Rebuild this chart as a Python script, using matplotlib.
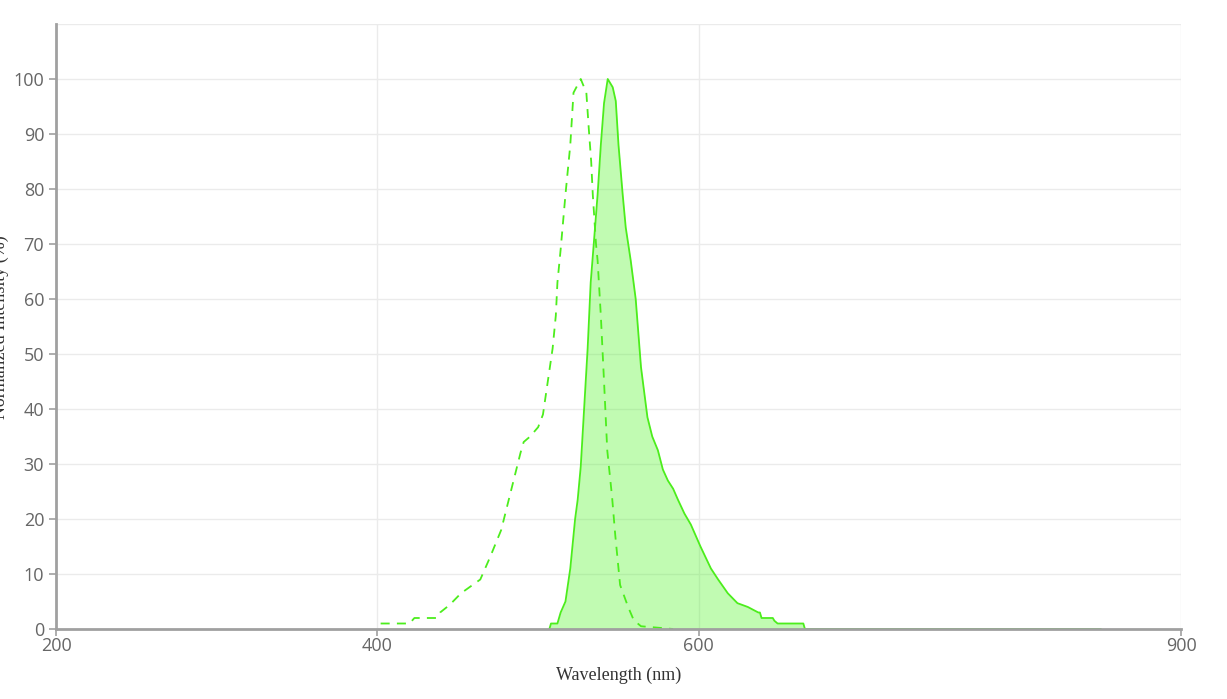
import numpy as np
import matplotlib.pyplot as plt

# excitation spectrum (dashed line)
ex_nm = [402, 420, 423, 437, 439, 445, 452, 464, 470, 477, 483, 489, 491, 495,
         500, 503, 506, 509, 511, 512, 514, 517, 520, 522, 526.5, 530, 531.5,
         533, 534, 536, 537, 539, 541, 543, 546, 548, 551, 556, 559.5, 564, 584]
ex_val = [1, 1, 2, 2, 3, 4.4, 6.5, 9, 13, 18, 25, 32, 34, 35,
          36.7, 39, 45, 51, 57, 63, 69, 79, 88, 97.5, 100, 97.5, 91,
          85, 79, 70, 67, 57, 45, 32.5, 24, 17, 8, 4, 1.6, 0.5, 0]

# emission spectrum (solid line, filled)
em_nm = [507, 508, 512, 514, 517, 519, 520, 523, 524.6, 526.5, 528.3, 530.8,
         532.7, 534.6, 537, 539, 541, 543.3, 546.4, 548.3, 550, 552.6, 554.5,
         557.6, 560.7, 564, 568, 571, 574.5, 577.6, 580.7, 584, 587, 591, 595,
         601, 607.5, 612, 618, 624, 630.5, 637, 638, 639, 646, 647, 649, 665,
         666, 850]
em_val = [0, 1, 1, 3, 5, 9, 11, 20, 23.5, 29.5, 38.5, 51,
          63, 70, 79, 88, 95.6, 100, 98.5, 96, 88, 79, 73,
          67, 60, 47.6, 38.5, 35, 32.5, 29, 27, 25.5, 23.5, 21, 19,
          15, 11, 9, 6.5, 4.7, 4, 3, 3, 2, 2, 1.5, 1, 1,
          0, 0]

green = '#4ced1c'

fig = plt.figure(figsize=(12.27, 6.99), dpi=100)
ax = fig.add_axes([56/1227, 1-629/699, (1181-56)/1227, (629-24)/699])

ax.fill_between(em_nm, em_val, 0, color='#5cf536', alpha=0.38, linewidth=0)
ax.plot(em_nm, em_val, color=green, linewidth=1.3)
ax.plot(ex_nm, ex_val, color=green, linewidth=1.3, linestyle=(0, (5, 4)))

ax.set_xlim(200, 900)
ax.set_ylim(0, 110)
ax.set_xticks([200, 400, 600, 900])
ax.set_yticks(range(0, 101, 10))

# grid lines
for y in range(10, 111, 10):
    ax.axhline(y, color='#ebebeb', linewidth=1, zorder=0)
for x in [400, 600, 900]:
    ax.axvline(x, color='#ebebeb', linewidth=1, zorder=0)

for s in ['top', 'right']:
    ax.spines[s].set_visible(False)
for s in ['left', 'bottom']:
    ax.spines[s].set_color('#a0a0a0')
    ax.spines[s].set_linewidth(2)

ax.tick_params(colors='#a0a0a0', length=5, width=1.2, labelcolor='#666666',
               labelsize=13)
for lab in ax.get_xticklabels() + ax.get_yticklabels():
    lab.set_family('Open Sans')
ax.tick_params(axis='x', pad=1)

ax.set_xlabel('Wavelength (nm)', family='Liberation Serif', fontsize=13,
              color='#333333', labelpad=8)
fig.text(9/1227, 1-327/699, 'Normalized Intensity (%)', rotation=90,
         ha='right', va='center', family='Liberation Serif', fontsize=13,
         color='#333333')

fig.savefig('out.png', dpi=100)
